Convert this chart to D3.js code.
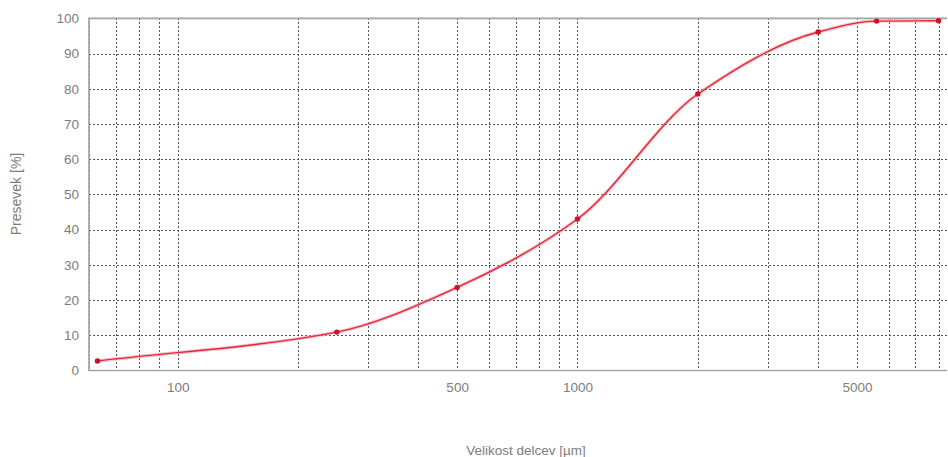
<!DOCTYPE html>
<html>
<head>
<meta charset="utf-8">
<script src="https://cdn.jsdelivr.net/npm/d3@7"></script>
<style>
  body { margin: 0; background: #fff; }
  svg { display: block; }
  text { font-family: "Liberation Sans", Arial, sans-serif; fill: #7d7d7d; }
</style>
</head>
<body>
<svg id="chart" width="948" height="457"></svg>
<script>
// Sieve analysis: cumulative passing by particle size
const sieveSizes = [63, 250, 500, 1000, 2000, 4000, 5600, 8000];   // µm
const passing    = [2.7, 10.9, 23.6, 43.0, 78.5, 96.1, 99.2, 99.3]; // %

const xTickLabels = [100, 500, 1000, 5000];
const xGridValues = [60, 70, 80, 90, 100, 200, 300, 400, 500, 600, 700, 800, 900,
                     1000, 2000, 3000, 4000, 5000, 6000, 7000, 8000];
const yTickValues = [0, 10, 20, 30, 40, 50, 60, 70, 80, 90, 100];

const xTitle = "Velikost delcev [µm]";
const yTitle = "Presevek [%]";

const plot = { left: 89, right: 947, top: 18.3, bottom: 370.5 };

const svg = d3.select("#chart");

const x = d3.scaleLog().domain([60, 8400]).range([plot.left, plot.right]);
const y = d3.scaleLinear().domain([0, 100]).range([plot.bottom, plot.top]);

// dotted grid
const grid = svg.append("g").attr("stroke", "#555").attr("stroke-width", 1)
  .attr("stroke-dasharray", "2,2").attr("shape-rendering", "crispEdges");
grid.selectAll("line.v").data(xGridValues).join("line").attr("class", "v")
  .attr("x1", d => Math.round(x(d)) + 0.5).attr("x2", d => Math.round(x(d)) + 0.5)
  .attr("y1", plot.top).attr("y2", plot.bottom);
grid.selectAll("line.h").data(yTickValues.filter(d => d > 0 && d < 100)).join("line").attr("class", "h")
  .attr("y1", d => Math.round(y(d)) + 0.5).attr("y2", d => Math.round(y(d)) + 0.5)
  .attr("x1", plot.left).attr("x2", plot.right);

// frame
const frame = svg.append("g").attr("stroke", "#a4a4a4").attr("stroke-width", 1.7).attr("fill", "none");
frame.append("path").attr("d",
  `M${plot.right},${plot.top}H${plot.left}V${plot.bottom}H${plot.right}`);

// axes (labels only, the frame carries the lines)
const yAxis = d3.axisLeft(y).tickValues(yTickValues).tickSize(0).tickPadding(10);
svg.append("g").attr("transform", `translate(${plot.left},0)`).call(yAxis)
  .call(g => g.select(".domain").remove())
  .selectAll("text").attr("font-size", 13.5).attr("fill", "#7d7d7d")
  .style("font-family", '"Liberation Sans", Arial, sans-serif');

const xAxis = d3.axisBottom(x).tickValues(xTickLabels).tickFormat(d3.format("d")).tickSize(0).tickPadding(12);
svg.append("g").attr("transform", `translate(0,${plot.bottom})`).call(xAxis)
  .call(g => g.select(".domain").remove())
  .selectAll("text").attr("font-size", 13.5).attr("fill", "#7d7d7d")
  .style("font-family", '"Liberation Sans", Arial, sans-serif');

// titles
svg.append("text").attr("x", 526).attr("y", 455).attr("text-anchor", "middle")
  .attr("font-size", 13.5).text(xTitle);
svg.append("text").attr("transform", "translate(21,194) rotate(-90)").attr("text-anchor", "middle")
  .attr("font-size", 14).text(yTitle);

// grading curve: shape-preserving cubic Hermite (PCHIP) through the sieve points
function pchipPath(P) {
  const n = P.length, h = [], s = [], m = new Array(n);
  for (let i = 0; i < n - 1; i++) {
    h[i] = P[i + 1][0] - P[i][0];
    s[i] = (P[i + 1][1] - P[i][1]) / h[i];
  }
  m[0] = s[0];
  m[n - 1] = s[n - 2];
  for (let i = 1; i < n - 1; i++) {
    if (s[i - 1] * s[i] <= 0) { m[i] = 0; continue; }
    const w1 = 2 * h[i] + h[i - 1], w2 = h[i] + 2 * h[i - 1];
    m[i] = (w1 + w2) / (w1 / s[i - 1] + w2 / s[i]);
  }
  const p = d3.path();
  p.moveTo(P[0][0], P[0][1]);
  for (let i = 0; i < n - 1; i++) {
    const d = h[i] / 3;
    p.bezierCurveTo(P[i][0] + d, P[i][1] + m[i] * d,
                    P[i + 1][0] - d, P[i + 1][1] - m[i + 1] * d,
                    P[i + 1][0], P[i + 1][1]);
  }
  return p.toString();
}

const pts = sieveSizes.map((s, i) => [x(s), y(passing[i])]);
const curve = pchipPath(pts);

svg.append("path").attr("d", curve).attr("fill", "none")
  .attr("stroke", "#f4a0a8").attr("stroke-width", 3.5).attr("stroke-opacity", 0.6);
svg.append("path").attr("d", curve).attr("fill", "none")
  .attr("stroke", "#e5263a").attr("stroke-width", 1.4);

svg.append("g").selectAll("circle").data(pts).join("circle")
  .attr("cx", d => d[0]).attr("cy", d => d[1]).attr("r", 2.7)
  .attr("fill", "#d0102a");
</script>
</body>
</html>
